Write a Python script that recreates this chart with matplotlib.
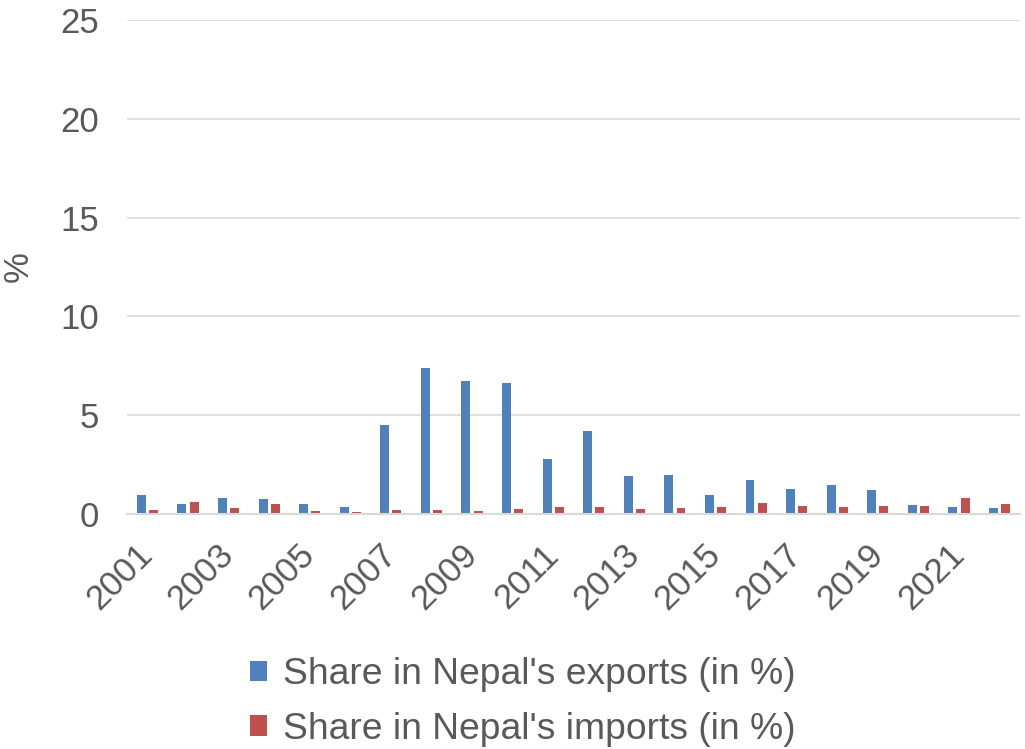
import numpy as np
import matplotlib.pyplot as plt

plt.rcParams['font.family'] = ['Liberation Sans', 'DejaVu Sans']

years = [str(y) for y in range(2001, 2023)]
exports = [0.93, 0.49, 0.81, 0.76, 0.49, 0.37, 4.49, 7.40, 6.74, 6.64, 2.76,
           4.18, 1.90, 1.96, 0.96, 1.71, 1.27, 1.44, 1.20, 0.44, 0.34, 0.30]
imports = [0.17, 0.59, 0.27, 0.48, 0.14, 0.07, 0.19, 0.19, 0.14, 0.24, 0.32,
           0.37, 0.25, 0.30, 0.36, 0.53, 0.39, 0.34, 0.41, 0.39, 0.80, 0.48]

txt = '#595959'

fig = plt.figure(figsize=(10.25, 7.49), dpi=100)
ax = fig.add_axes([0.124, 0.314, 0.871, 0.659])

x = np.arange(len(years))
w = 0.22
ax.bar(x - 0.15, exports, w, color='#4F81BD', label="Share in Nepal's exports (in %)")
ax.bar(x + 0.15, imports, w, color='#C0504D', label="Share in Nepal's imports (in %)")

ax.set_xlim(-0.5, len(years) - 0.5)
ax.set_ylim(0, 25)
ax.set_yticks([0, 5, 10, 15, 20, 25])
ax.yaxis.grid(True, color='#d9d9d9', linewidth=1.2)
ax.set_axisbelow(True)
for s in ['top', 'right', 'left']:
    ax.spines[s].set_visible(False)
ax.spines['bottom'].set_color('#d9d9d9')
ax.spines['bottom'].set_linewidth(1.5)

# every second year, rotated like the original
ax.set_xticks(x[::2])
ax.set_xticklabels(years[::2], rotation=45, ha='right', va='center',
                   rotation_mode='anchor')
ax.tick_params(axis='both', length=0, labelsize=25, colors=txt)
ax.tick_params(axis='x', pad=26)
ax.tick_params(axis='y', pad=20)
ax.set_ylabel('%', fontsize=25, color=txt)
ax.yaxis.set_label_coords(-0.103, 0.5)

fig.legend(loc='upper center', bbox_to_anchor=(0.51, 0.167), ncol=1, frameon=False,
           fontsize=26.8, handlelength=0.47, handleheight=0.47, handletextpad=0.42,
           labelspacing=0.52, labelcolor=txt)

fig.savefig('out.png', dpi=100)
